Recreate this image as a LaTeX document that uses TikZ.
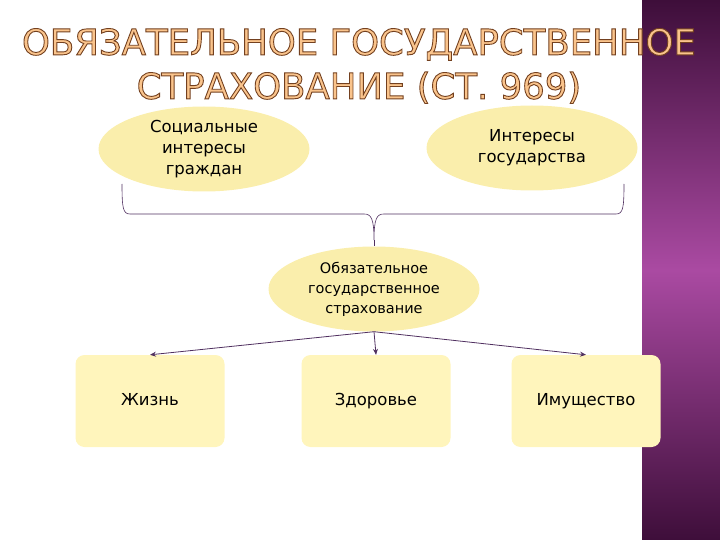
\documentclass[tikz,border=0pt]{standalone}
\usepackage{fontspec}
\setmainfont{DejaVu Sans}
\usepackage{tikz}
\usetikzlibrary{arrows.meta,positioning,shapes.geometric}
\definecolor{bandtop}{RGB}{62,14,58}
\definecolor{bandmid}{RGB}{170,74,162}
\definecolor{ovalfill}{RGB}{250,238,172}
\definecolor{boxfill}{RGB}{255,245,188}
\definecolor{linkcol}{RGB}{80,48,96}
\definecolor{titlefill}{RGB}{250,196,140}
\newcommand{\outlined}[1]{\special{pdf:literal direct 2 Tr 0.9 w 0.45 0.25 0.12 RG}#1\special{pdf:literal direct 0 Tr}}

\begin{document}
\begin{tikzpicture}[
  x=1pt, y=-1pt, >={Stealth[length=6pt,width=5pt]},
  oval/.style={ellipse, fill=ovalfill, minimum width=211pt, minimum height=85pt,
               align=center, inner sep=0pt},
  kind/.style={fill=boxfill, rounded corners=9pt, minimum width=149pt, minimum height=92pt,
               text height=12pt, text depth=3pt, font=\fontsize{16.5}{20}\selectfont},
  link/.style={draw=linkcol, thick}]
\useasboundingbox (0,0) rectangle (720,540);
\shade[top color=bandtop, bottom color=bandtop, middle color=bandmid] (642,0) rectangle (720,540);
\node[text=titlefill, align=center, font=\fontsize{35.5}{44}\selectfont] (title) at (359,66)
  {\outlined{ОБЯЗАТЕЛЬНОЕ ГОСУДАРСТВЕННОЕ}\\\outlined{СТРАХОВАНИЕ (СТ. 969)}};
\node[oval, font=\fontsize{16.5}{21}\selectfont] (soc) at (204,149) {Социальные\\интересы\\граждан};
\node[oval, font=\fontsize{16.5}{21}\selectfont] (gos) at (532,148) {Интересы\\государства};
\node[oval, font=\fontsize{14.5}{20}\selectfont] (ins) at (374,289) {Обязательное\\государственное\\страхование};
\node[kind] (life) at (150,401) {Жизнь};
\node[kind] (health) at (376,401) {Здоровье};
\node[kind] (prop) at (586,401) {Имущество};
\coordinate (tip) at (374,240);
\draw[link, semithick] (122,184) .. controls (122,208) and (123,214) .. (130,214) -- (364,214)
  .. controls (371,214) and (374,218) .. (tip)
  .. controls (374,218) and (377,214) .. (384,214) -- (616,214)
  .. controls (623,214) and (624,208) .. (624,184);
\draw[link] (tip) -- (ins.north);
\draw[link, ->] (ins.south) -- (life.north);
\draw[link, ->] (ins.south) -- (health.north);
\draw[link, ->] (ins.south) -- (prop.north);
\end{tikzpicture}
\end{document}
